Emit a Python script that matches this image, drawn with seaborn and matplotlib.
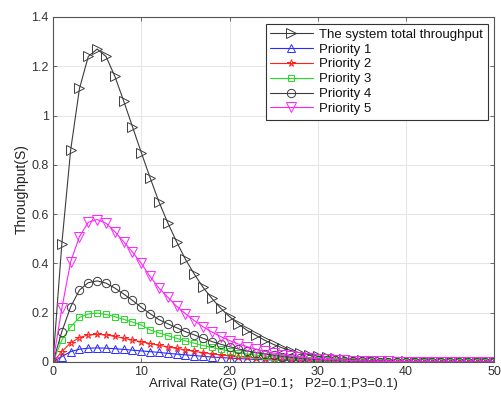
import numpy as np
import pandas as pd
import matplotlib
matplotlib.use("Agg")
import matplotlib.pyplot as plt
import seaborn as sns
from matplotlib.ticker import FuncFormatter

# ---------------- data ----------------
arrival_rate = list(range(0, 51))

total = [0, 0.48, 0.86, 1.11, 1.24, 1.27, 1.24, 1.16, 1.06, 0.955,
         0.85, 0.748, 0.65, 0.565, 0.488, 0.417, 0.357, 0.303, 0.258, 0.218,
         0.184, 0.154, 0.128, 0.108, 0.088, 0.071, 0.057, 0.046, 0.037, 0.030,
         0.024, 0.019, 0.015, 0.012, 0.009, 0.007, 0.0055, 0.0043, 0.0033, 0.0025,
         0.002, 0.0015, 0.0012, 0.0009, 0.0007, 0.0005, 0.0004, 0.0003, 0.0002, 0.0002,
         0.0001]

priority1 = [0, 0.022, 0.042, 0.052, 0.056, 0.057, 0.056, 0.054, 0.051, 0.048,
             0.045, 0.042, 0.039, 0.035, 0.032, 0.029, 0.026, 0.023, 0.020, 0.018,
             0.016, 0.014, 0.012, 0.010, 0.009, 0.008, 0.007, 0.006, 0.005, 0.004,
             0.0035, 0.003, 0.0025, 0.002, 0.0017, 0.0014, 0.0012, 0.001, 0.0008, 0.0007,
             0.0006, 0.0005, 0.0004, 0.0003, 0.0003, 0.0002, 0.0002, 0.0001, 0.0001, 0.0001,
             0.0001]

priority2 = [0, 0.042, 0.078, 0.099, 0.11, 0.112, 0.11, 0.104, 0.097, 0.089,
             0.082, 0.075, 0.068, 0.061, 0.055, 0.049, 0.043, 0.038, 0.033, 0.029,
             0.025, 0.022, 0.019, 0.016, 0.014, 0.012, 0.010, 0.008, 0.007, 0.006,
             0.005, 0.004, 0.0034, 0.0028, 0.0023, 0.0019, 0.0015, 0.0012, 0.001, 0.0008,
             0.0007, 0.0005, 0.0004, 0.0003, 0.0003, 0.0002, 0.0002, 0.0001, 0.0001, 0.0001,
             0.0001]

priority3 = [0, 0.089, 0.143, 0.181, 0.195, 0.198, 0.193, 0.184, 0.173, 0.162,
             0.150, 0.13, 0.118, 0.107, 0.096, 0.086, 0.076, 0.067, 0.059, 0.051,
             0.044, 0.038, 0.033, 0.028, 0.024, 0.020, 0.017, 0.014, 0.012, 0.010,
             0.008, 0.0065, 0.0053, 0.0043, 0.0035, 0.0028, 0.0022, 0.0018, 0.0014, 0.0011,
             0.0009, 0.0007, 0.0006, 0.0005, 0.0004, 0.0003, 0.0002, 0.0002, 0.0001, 0.0001,
             0.0001]

priority4 = [0, 0.123, 0.224, 0.292, 0.322, 0.329, 0.32, 0.30, 0.276, 0.25,
             0.222, 0.196, 0.172, 0.155, 0.139, 0.123, 0.11, 0.096, 0.083, 0.072,
             0.062, 0.053, 0.045, 0.038, 0.032, 0.027, 0.022, 0.018, 0.015, 0.012,
             0.010, 0.008, 0.0065, 0.005, 0.004, 0.003, 0.0024, 0.0019, 0.0015, 0.0012,
             0.0009, 0.0007, 0.0006, 0.0005, 0.0004, 0.0003, 0.0002, 0.0002, 0.0001, 0.0001,
             0.0001]

priority5 = [0, 0.218, 0.407, 0.509, 0.567, 0.578, 0.563, 0.529, 0.488, 0.446,
             0.40, 0.347, 0.30, 0.263, 0.226, 0.196, 0.168, 0.143, 0.122, 0.103,
             0.087, 0.073, 0.062, 0.052, 0.043, 0.036, 0.030, 0.025, 0.020, 0.016,
             0.013, 0.011, 0.009, 0.007, 0.0055, 0.0045, 0.0035, 0.0028, 0.0022, 0.0018,
             0.0014, 0.0011, 0.0009, 0.0007, 0.0005, 0.0004, 0.0003, 0.0003, 0.0002, 0.0002,
             0.0001]

series_labels = ["The system total throughput", "Priority 1", "Priority 2",
                 "Priority 3", "Priority 4", "Priority 5"]
x_label = "Arrival Rate(G) (P1=0.1\uff1b P2=0.1;P3=0.1)"
y_label = "Throughput(S)"
x_ticks = [0, 10, 20, 30, 40, 50]
y_ticks = [0, 0.2, 0.4, 0.6, 0.8, 1.0, 1.2, 1.4]

# ---------------- styling ----------------
sns.set_theme(style="white")
plt.rcParams['font.family'] = ['Liberation Sans', 'Noto Sans CJK SC', 'DejaVu Sans']

fig = plt.figure(figsize=(5.02, 3.96), dpi=100)
ax = fig.add_axes([0.1056, 0.0859, 0.879, 0.8712])

styles = [
    (total, '>', '#3c3c3c', 7.0),
    (priority1, '^', '#2b2bff', 6.0),
    (priority2, '*', '#ff2020', 5.5),
    (priority3, 's', '#22dd22', 5.0),
    (priority4, 'o', '#3c3c3c', 6.0),
    (priority5, 'v', '#ff22ff', 6.5),
]

for (vals, mk, col, ms), lab in zip(styles, series_labels):
    sns.lineplot(x=arrival_rate, y=vals, ax=ax, color=col, linewidth=0.8,
                 marker=mk, markersize=ms, markerfacecolor='none',
                 markeredgecolor=col, markeredgewidth=0.7, label=lab)

ax.set_xlim(0, 50)
ax.set_ylim(0, 1.4)
ax.set_xticks(x_ticks)
ax.set_yticks(y_ticks)
ax.yaxis.set_major_formatter(FuncFormatter(lambda v, p: f"{v:g}"))
ax.grid(True, color='#e6e6e6', linewidth=0.8)
ax.set_axisbelow(True)
for s in ax.spines.values():
    s.set_color('#555555')
    s.set_linewidth(0.8)
ax.tick_params(direction='in', length=3, width=0.6, colors='#555555',
               labelcolor='#333333', labelsize=9, top=True, right=True,
               bottom=True, left=True, pad=3)
ax.set_xlabel(x_label, fontsize=9.5, color='#222222', labelpad=0)
ax.set_ylabel(y_label, fontsize=10, color='#222222', labelpad=2)

leg = ax.legend(loc='upper right', bbox_to_anchor=(0.985, 0.98), fontsize=9.5,
                frameon=True, fancybox=False, framealpha=1, edgecolor='#333333',
                handlelength=3.2, labelspacing=0.2, borderpad=0.35,
                handletextpad=0.5, borderaxespad=0.0)
leg.get_frame().set_linewidth(0.8)
for t in leg.get_texts():
    t.set_color('#111111')

fig.savefig("out.png", dpi=100)
